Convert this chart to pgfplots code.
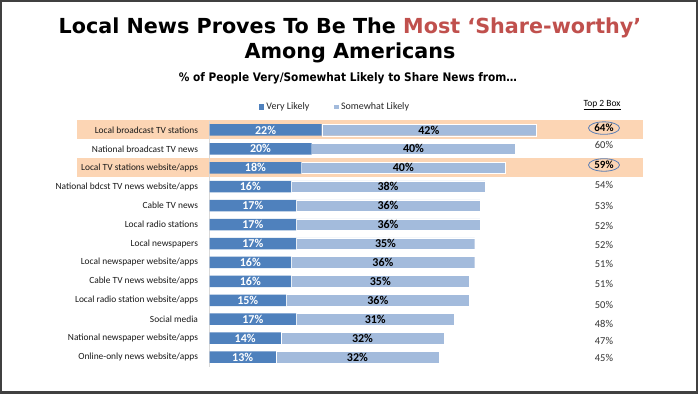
\documentclass[border=0pt]{standalone}
\usepackage{fontspec}
\setmainfont{Carlito}
\newfontfamily\titlefont{DejaVu Sans}
\newfontfamily\subfont{DejaVu Sans Condensed}
\usepackage{pgfplots}
\pgfplotsset{compat=1.18}
\usepackage{pgfplotstable}
\usetikzlibrary{shapes.geometric}
\definecolor{dblue}{HTML}{4F81BD}
\definecolor{lblue}{HTML}{A3BBDC}
\definecolor{band}{HTML}{FCD5B4}
\definecolor{tred}{HTML}{C0504D}
\definecolor{circ}{HTML}{5B7EB5}
\definecolor{frame}{HTML}{404040}

\pgfplotstableread{
row v s
0 22 42
1 20 40
2 18 40
3 16 38
4 17 36
5 17 36
6 17 35
7 16 36
8 16 35
9 15 36
10 17 31
11 14 32
12 13 32
}\data

% Top 2 Box values (tp = vertical position in row units)
\pgfplotstableread{
tp t
-0.1 64
1.85 59
}\topbold
\pgfplotstableread{
tp t
0.8 60
2.9 54
4.0 53
5.07 52
6.08 52
7.08 51
8.14 51
9.25 50
10.25 48
11.15 47
12.03 45
}\topnorm

\begin{document}
\begin{tikzpicture}
\begin{scope}[x=1pt,y=-1pt]
\useasboundingbox (0,0) rectangle (700,394);
\fill[white] (0,0) rectangle (700,394);
\draw[frame, line width=2.4pt] (1.2,1.2) rectangle (697,392.3);
% titles
\node[anchor=base, inner sep=0] at (350,33) {\titlefont\bfseries\fontsize{20.7}{24}\selectfont Local News Proves To Be The \textcolor{tred}{Most ‘Share-worthy’}};
\node[anchor=base, inner sep=0] at (350,58) {\titlefont\bfseries\fontsize{20.7}{24}\selectfont Among Americans};
\node[anchor=base, inner sep=0] at (348,81) {\subfont\bfseries\fontsize{11.75}{14}\selectfont \% of People Very/Somewhat Likely to Share News from\ldots};
% Top 2 Box header
\node[anchor=base, inner sep=0] at (602,106.5) {\fontsize{9.5}{11}\selectfont\underline{Top 2 Box}};
% highlight bands
\fill[band] (76.5,120) rectangle (643,139.3);
\fill[band] (76.5,157.7) rectangle (643,176.8);
\end{scope}

\begin{axis}[
  at={(209.5pt,-120.5pt)}, anchor=north west,
  scale only axis, width=357pt, height=246pt,
  xmin=0, xmax=70, ymin=-0.5, ymax=12.5, y dir=reverse,
  xbar stacked, bar width=11.5pt,
  axis x line=none, axis y line*=left,
  y axis line style={draw=black!15, line width=0.6pt},
  ytick={0,...,12}, major tick length=0pt,
  yticklabels={Local broadcast TV stations, National broadcast TV news, Local TV stations website/apps, National bdcst TV news website/apps, Cable TV news, Local radio stations, Local newspapers, Local newspaper website/apps, Cable TV news website/apps, Local radio station website/apps, Social media, National newspaper website/apps, Online-only news website/apps},
  yticklabel style={font=\fontsize{9.4}{11}\selectfont, text=black!90, xshift=-8pt},
  legend columns=2,
  legend style={at={(0.352,1)}, anchor=center, yshift=13.5pt, draw=none, fill=none,
    font=\fontsize{10}{12}\selectfont, text=black!85,
    /tikz/every even column/.append style={column sep=22pt}},
  legend image code/.code={\fill[#1] (0pt,-2.6pt) rectangle (5.2pt,2.6pt);},
]
\addplot[fill=dblue, draw=none] table[x=v, y=row]{\data};
\addlegendentry{Very Likely}
\addplot[fill=lblue, draw=white, line width=0.4pt] table[x=s, y=row]{\data};
\addlegendentry{Somewhat Likely}
\end{axis}

\begin{axis}[
  at={(209.5pt,-120.5pt)}, anchor=north west,
  scale only axis, width=357pt, height=246pt,
  xmin=0, xmax=70, ymin=-0.5, ymax=12.5, y dir=reverse,
  hide axis, clip=false,
  /pgf/number format/assume math mode=true,
]
\addplot[draw=none, nodes near coords={\pgfmathprintnumber{\pgfplotspointmeta}\%},
  point meta=\thisrow{v},
  every node near coord/.style={anchor=center, text=white, font=\bfseries\fontsize{12}{14}\selectfont}]
  table[x expr=\thisrow{v}/2, y=row]{\data};
\addplot[draw=none, nodes near coords={\pgfmathprintnumber{\pgfplotspointmeta}\%},
  point meta=\thisrow{s},
  every node near coord/.style={anchor=center, text=black, font=\bfseries\fontsize{12}{14}\selectfont}]
  table[x expr=\thisrow{v}+\thisrow{s}/2, y=row]{\data};
\addplot[draw=none, nodes near coords={\pgfmathprintnumber{\pgfplotspointmeta}\%},
  point meta=\thisrow{t},
  every node near coord/.style={anchor=center, text=black!80, font=\fontsize{10.5}{12}\selectfont}]
  table[x expr=77.35, y=tp]{\topnorm};
\addplot[draw=none, nodes near coords={\pgfmathprintnumber{\pgfplotspointmeta}\%},
  point meta=\thisrow{t},
  every node near coord/.style={anchor=center, text=black, ellipse, draw=circ, line width=0.8pt, minimum width=31pt, minimum height=12.5pt, inner sep=0pt, font=\bfseries\fontsize{11}{12}\selectfont}]
  table[x expr=77.35, y=tp]{\topbold};
\end{axis}
\end{tikzpicture}
\end{document}
